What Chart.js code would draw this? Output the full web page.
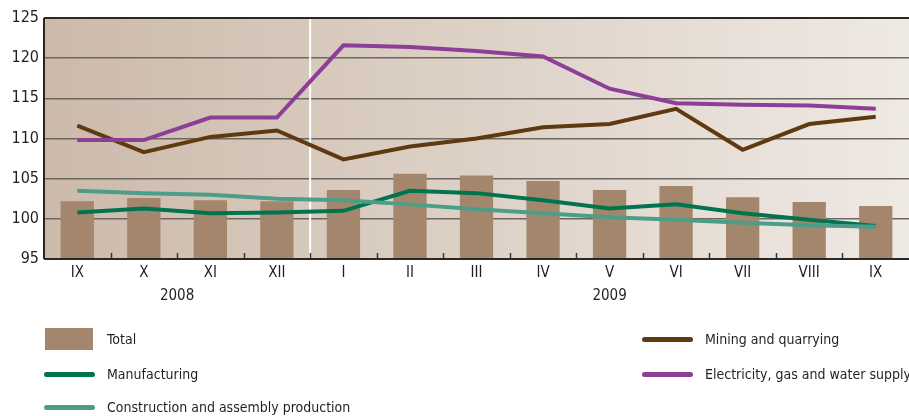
<!DOCTYPE html>
<html>
<head>
<meta charset="utf-8">
<script src="https://cdn.jsdelivr.net/npm/chart.js@4/dist/chart.umd.min.js"></script>
<style>
  html, body { margin: 0; padding: 0; background: #ffffff; }
  #wrap { position: relative; width: 909px; height: 416px; overflow: hidden; }
  #c { position: absolute; left: 0; top: 0; }
  .lg { position: absolute; font-family: "Liberation Sans Narrow", "DejaVu Sans Condensed", "Roboto Condensed", sans-serif; font-size: 14px; color: #231f20; display: flex; align-items: center; white-space: nowrap; }
  .sw { display: inline-block; }
</style>
</head>
<body>
<div id="wrap">
  <canvas id="c" width="909" height="416"></canvas>
  <div id="legend"></div>
</div>
<script>
const months = ["IX", "X", "XI", "XII", "I", "II", "III", "IV", "V", "VI", "VII", "VIII", "IX"];
const years = [{ label: "2008", from: 0, to: 3 }, { label: "2009", from: 4, to: 12 }];
const total = [102.2, 102.6, 102.3, 102.2, 103.6, 105.6, 105.4, 104.7, 103.6, 104.1, 102.7, 102.1, 101.6];
const mining = [111.6, 108.3, 110.2, 111.0, 107.4, 109.0, 110.0, 111.4, 111.8, 113.7, 108.6, 111.8, 112.7];
const electricity = [109.8, 109.8, 112.6, 112.6, 121.6, 121.4, 120.9, 120.2, 116.2, 114.4, 114.2, 114.1, 113.7];
const manufacturing = [100.8, 101.3, 100.7, 100.8, 101.0, 103.5, 103.2, 102.3, 101.3, 101.8, 100.7, 99.9, 99.1];
const construction = [103.5, 103.2, 103.0, 102.5, 102.3, 101.8, 101.2, 100.7, 100.2, 99.9, 99.5, 99.2, 99.0];
const yTicks = [95, 100, 105, 110, 115, 120, 125];

const FONT = '"Liberation Sans Narrow", "DejaVu Sans Condensed", sans-serif';
const TXT = '#231f20';

const bgPlugin = {
  id: 'bg',
  beforeDraw(chart) {
    const a = chart.chartArea, ctx = chart.ctx;
    const g = ctx.createLinearGradient(a.left, 0, a.right, 0);
    g.addColorStop(0, '#ccbaaa');
    g.addColorStop(1, '#efe9e4');
    ctx.save();
    ctx.fillStyle = g;
    ctx.fillRect(a.left, a.top, a.right - a.left, a.bottom - a.top);
    ctx.restore();
  },
  beforeDatasetsDraw(chart) {
    const a = chart.chartArea, ctx = chart.ctx, xs = chart.scales.x;
    const sx = (xs.getPixelForValue(3) + xs.getPixelForValue(4)) / 2;
    ctx.save();
    ctx.strokeStyle = '#ffffff';
    ctx.lineWidth = 2;
    ctx.beginPath();
    ctx.moveTo(sx, a.top + 1);
    ctx.lineTo(sx, a.bottom - 1);
    ctx.stroke();
    ctx.restore();
  },
  afterDraw(chart) {
    const a = chart.chartArea, ctx = chart.ctx, xs = chart.scales.x;
    ctx.save();
    ctx.strokeStyle = '#3a3532';
    ctx.lineWidth = 1.5;
    for (let i = 0; i < months.length - 1; i++) {
      const x = Math.round((xs.getPixelForValue(i) + xs.getPixelForValue(i + 1)) / 2) + 0.5;
      ctx.beginPath();
      ctx.moveTo(x, a.bottom);
      ctx.lineTo(x, a.bottom - 6);
      ctx.stroke();
    }
    ctx.strokeStyle = '#2b2725';
    ctx.lineWidth = 2;
    ctx.beginPath();
    ctx.moveTo(a.left, a.bottom);
    ctx.lineTo(a.right, a.bottom);
    ctx.moveTo(a.left, a.top);
    ctx.lineTo(a.right, a.top);
    ctx.moveTo(a.left, a.top);
    ctx.lineTo(a.left, a.bottom);
    ctx.stroke();
    ctx.fillStyle = TXT;
    ctx.font = '15px ' + FONT;
    ctx.textAlign = 'center';
    ctx.textBaseline = 'middle';
    years.forEach(y => {
      const x = (xs.getPixelForValue(y.from) + xs.getPixelForValue(y.to)) / 2;
      ctx.fillText(y.label, x, a.bottom + 37);
    });
    ctx.restore();
  }
};

const datasets = [
  { type: 'bar', label: 'Total', data: total, backgroundColor: '#a3866b', borderWidth: 0, barPercentage: 0.5, categoryPercentage: 1.0, order: 10 },
  { type: 'line', label: 'Mining and quarrying', data: mining, borderColor: '#5f3a11', order: 4 },
  { type: 'line', label: 'Electricity, gas and water supply', data: electricity, borderColor: '#8d3f97', order: 3 },
  { type: 'line', label: 'Manufacturing', data: manufacturing, borderColor: '#00744f', order: 2 },
  { type: 'line', label: 'Construction and assembly production', data: construction, borderColor: '#4c9e88', order: 1 }
];
datasets.forEach(d => {
  if (d.type === 'line') {
    d.borderWidth = 4;
    d.pointRadius = 0;
    d.tension = 0;
    d.fill = false;
    d.borderJoinStyle = 'miter';
  }
});

new Chart(document.getElementById('c'), {
  data: { labels: months, datasets },
  options: {
    responsive: false,
    animation: false,
    events: [],
    layout: { padding: { top: 18, right: 0, left: 0, bottom: 0 } },
    plugins: { legend: { display: false }, tooltip: { enabled: false } },
    scales: {
      x: {
        offset: true,
        grid: { display: false, drawTicks: false },
        border: { display: false },
        ticks: { color: TXT, font: { family: FONT, size: 15 }, padding: 5, maxRotation: 0, autoSkip: false },
        afterFit(s) { s.height = 416 - 259; }
      },
      y: {
        min: 95, max: 125,
        afterBuildTicks(s) { s.ticks = yTicks.map(v => ({ value: v })); },
        grid: { color: '#6d6661', lineWidth: 1.5, drawTicks: false },
        border: { display: false },
        ticks: { color: TXT, font: { family: FONT, size: 16 }, padding: 5 },
        afterFit(s) { s.width = 44; }
      }
    }
  },
  plugins: [bgPlugin]
});

const legendLayout = [
  { i: 0, x: 45, y: 339 }, { i: 3, x: 44, y: 374 }, { i: 4, x: 44, y: 407 },
  { i: 1, x: 642, y: 339 }, { i: 2, x: 642, y: 374 }
];
const lg = document.getElementById('legend');
legendLayout.forEach(p => {
  const d = datasets[p.i];
  const el = document.createElement('div');
  el.className = 'lg';
  el.style.left = p.x + 'px';
  el.style.top = (p.y - 11) + 'px';
  el.style.height = '22px';
  const sw = document.createElement('span');
  sw.className = 'sw';
  if (d.type === 'bar') {
    sw.style.width = '48px'; sw.style.height = '22px'; sw.style.background = d.backgroundColor; sw.style.marginRight = '14px';
  } else {
    sw.style.width = '51px'; sw.style.height = '5px'; sw.style.borderRadius = '3px'; sw.style.background = d.borderColor; sw.style.marginRight = '12px';
  }
  el.appendChild(sw);
  const t = document.createElement('span');
  t.textContent = d.label;
  el.appendChild(t);
  lg.appendChild(el);
});
</script>
</body>
</html>
